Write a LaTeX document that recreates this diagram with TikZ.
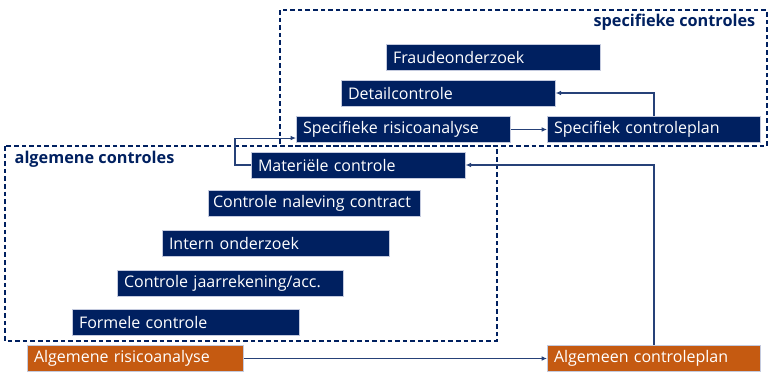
\documentclass[tikz,border=0pt]{standalone}
\usepackage{fontspec}
\setmainfont{Open Sans}
\usetikzlibrary{arrows.meta}
\definecolor{navyblue}{RGB}{0,32,96}
\definecolor{rustorange}{RGB}{197,90,17}
\definecolor{rimgrey}{RGB}{196,202,222}
\tikzset{
  ctrl/.style={fill=navyblue,draw=rimgrey,line width=0.5pt,text=white,
    anchor=west,minimum height=19.5pt,inner xsep=5pt,inner ysep=0pt,
    align=left,font=\fontsize{12}{14}\selectfont},
  plan/.style={ctrl,fill=rustorange},
  grp/.style={draw=navyblue,line width=1.4pt,dash pattern=on 3.5pt off 2.2pt},
  grplabel/.style={text=navyblue,font=\fontsize{12.2}{14}\selectfont\bfseries},
  link/.style={draw=navyblue!85,line width=0.8pt,-{Latex[length=4pt,width=3.5pt]}}
}
\begin{document}
\begin{tikzpicture}[x=0.75pt,y=-0.75pt]
  \useasboundingbox (0,0) rectangle (773,382);
  % groepen
  \draw[grp] (280,10) rectangle (767,146);
  \draw[grp] (5,146) rectangle (497,341);
  \node[grplabel,anchor=east] (speclabel) at (760,22) {specifieke controles};
  \node[grplabel,anchor=west] (alglabel) at (10,159) {algemene controles};
  % specifieke controles
  \node[ctrl,text width=150.5pt] (fraude) at (386,57) {Fraudeonderzoek};
  \node[ctrl,text width=150.5pt] (detail) at (341,93) {Detailcontrole};
  \node[ctrl,text width=150.5pt] (specrisico) at (296,129.5) {Specifieke risicoanalyse};
  \node[ctrl,text width=150pt] (specplan) at (547,129.5) {Specifiek controleplan};
  % algemene controles
  \node[ctrl,text width=150.5pt] (materieel) at (251,165) {Materiële controle};
  \node[ctrl,inner xsep=3.5pt,text width=152pt] (naleving) at (208,203) {Controle naleving contract};
  \node[ctrl,text width=160pt] (intern) at (162,243) {Intern onderzoek};
  \node[ctrl,text width=159.5pt] (jaarrek) at (117,283) {Controle jaarrekening/acc.};
  \node[ctrl,text width=160pt] (formeel) at (72,322) {Formele controle};
  \node[plan,text width=152pt] (algrisico) at (27,358.5) {Algemene risicoanalyse};
  \node[plan,text width=150pt] (algplan) at (547,358.5) {Algemeen controleplan};
  % verbindingen
  \draw[link] (algrisico) -- (algplan);
  \draw[link] (algplan.north) |- (materieel.east);
  \draw[link] (specrisico) -- (specplan);
  \draw[link] (specplan.north) |- (detail.east);
  \draw[link] (materieel.west) -- ++(-16,0) |- ([yshift=-6.4pt]specrisico.west);
\end{tikzpicture}
\end{document}
